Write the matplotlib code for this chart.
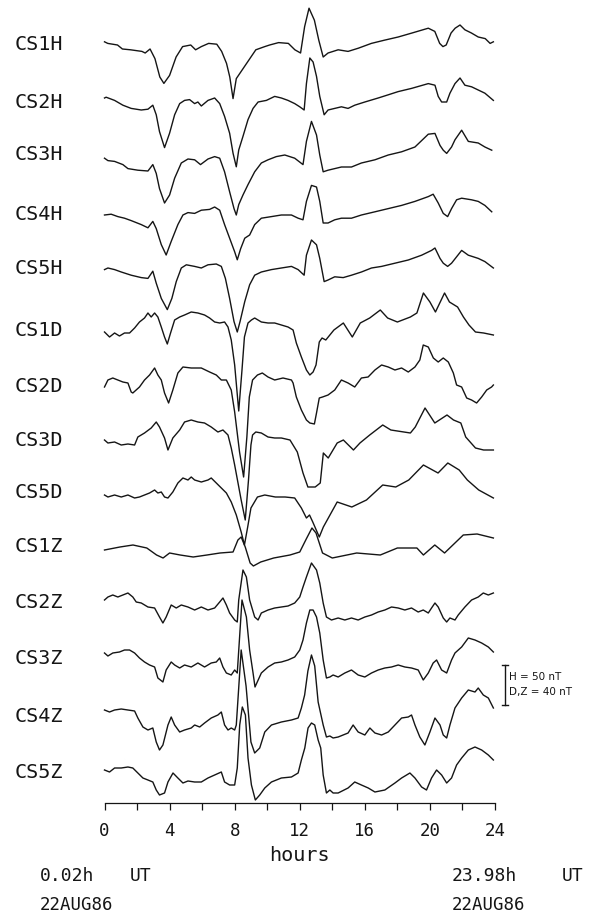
import matplotlib
matplotlib.use("Agg")
import matplotlib.pyplot as plt
import numpy as np

# ---------------- data (hours UT, deviation in nT) ----------------
STATIONS = ["CS1H", "CS2H", "CS3H", "CS4H", "CS5H",
            "CS1D", "CS2D", "CS3D", "CS5D",
            "CS1Z", "CS2Z", "CS3Z", "CS4Z", "CS5Z"]

CS1H = [(0.0,4),(0.2,2),(0.8,0),(1.1,-5),(1.6,-6),(2.3,-8),(2.5,-10),(2.8,-5),(3.1,-17),(3.4,-40),(3.65,-48),(4.0,-38),(4.4,-15),(4.8,-2),(5.3,0),(5.6,-6),(5.95,-2),(6.4,2),(6.9,1),(7.2,-8),(7.5,-23),(7.7,-40),(7.9,-67),(8.1,-42),(8.4,-33),(8.8,-21),(9.3,-6),(9.85,-2),(10.15,0),(10.7,3),(11.3,2),(11.7,-6),(12.05,-10),(12.3,23),(12.57,46),(12.9,31),(13.17,6),(13.44,-15),(13.74,-10),(14.36,-6),(14.97,-8),(15.6,-4),(16.4,2),(17.2,6),(18.05,10),(18.9,15),(19.9,21),(20.3,17),(20.6,2),(20.8,-2),(21.0,0),(21.3,15),(21.55,21),(21.85,25),(22.15,19),(22.55,15),(22.97,10),(23.4,8),(23.7,2),(23.9,4)]
CS2H = [(0.0,5),(0.1,6),(0.62,2),(1.13,-4),(1.64,-8),(2.26,-10),(2.67,-9),(2.97,-4),(3.18,-16),(3.38,-37),(3.69,-57),(4.0,-39),(4.31,-16),(4.62,-2),(4.92,2),(5.23,3),(5.54,-2),(5.74,0),(5.95,-5),(6.36,2),(6.77,5),(7.08,-2),(7.38,-18),(7.69,-39),(7.9,-64),(8.1,-81),(8.25,-60),(8.51,-43),(8.82,-22),(9.13,-8),(9.44,0),(9.95,2),(10.46,7),(10.87,5),(11.28,2),(11.69,-2),(12.0,-6),(12.27,-10),(12.41,23),(12.62,55),(12.82,50),(13.03,32),(13.23,7),(13.5,-16),(13.74,-10),(14.15,-8),(14.56,-6),(14.97,-8),(15.38,-4),(16.0,0),(16.82,5),(17.44,9),(18.05,13),(18.87,17),(19.9,23),(20.31,21),(20.51,7),(20.72,0),(21.03,0),(21.23,11),(21.54,23),(21.85,30),(22.15,21),(22.56,19),(22.97,15),(23.38,11),(23.9,2)]
CS3H = [(0.0,-4),(0.21,-7),(0.62,-8),(1.13,-12),(1.44,-17),(2.05,-19),(2.67,-20),(2.97,-12),(3.18,-23),(3.38,-42),(3.69,-60),(4.0,-50),(4.31,-29),(4.72,-10),(5.13,-5),(5.54,-6),(5.9,-12),(6.36,-5),(6.77,-2),(7.08,-4),(7.38,-21),(7.69,-46),(7.96,-67),(8.1,-75),(8.25,-62),(8.51,-50),(8.82,-37),(9.23,-21),(9.64,-10),(10.05,-6),(10.56,-2),(11.08,0),(11.69,-4),(12.2,-12),(12.41,17),(12.72,42),(13.03,25),(13.23,0),(13.44,-21),(13.74,-19),(14.15,-17),(14.56,-15),(15.18,-15),(15.79,-10),(16.62,-6),(17.44,0),(18.26,4),(19.08,10),(19.9,26),(20.31,27),(20.62,12),(20.82,6),(21.03,2),(21.33,10),(21.54,19),(21.95,31),(22.36,17),(22.97,15),(23.38,10),(23.8,6)]
CS4H = [(0.0,0),(0.41,1),(0.82,-2),(1.23,-4),(1.64,-7),(2.26,-12),(2.67,-16),(2.97,-8),(3.18,-17),(3.49,-37),(3.79,-50),(4.1,-33),(4.51,-12),(4.82,0),(5.13,3),(5.54,2),(5.95,6),(6.46,7),(6.77,10),(7.08,6),(7.38,-12),(7.69,-29),(8.0,-46),(8.16,-56),(8.37,-42),(8.62,-29),(8.92,-25),(9.23,-12),(9.64,-4),(10.26,-2),(10.87,0),(11.49,0),(11.9,-4),(12.2,-6),(12.41,17),(12.72,37),(13.03,35),(13.23,17),(13.44,-10),(13.74,-10),(14.15,-6),(14.56,-4),(15.18,-4),(15.79,0),(16.62,4),(17.44,8),(18.26,12),(19.08,17),(19.9,23),(20.2,26),(20.51,15),(20.82,2),(21.09,-2),(21.33,8),(21.64,19),(21.95,21),(22.56,19),(22.97,17),(23.38,12),(23.8,4)]
CS5H = [(0.0,-2),(0.21,0),(0.62,-2),(1.03,-5),(1.64,-9),(2.26,-12),(2.67,-13),(2.97,-4),(3.18,-19),(3.49,-38),(3.86,-52),(4.14,-38),(4.41,-17),(4.72,0),(5.03,4),(5.54,2),(5.95,0),(6.36,4),(6.87,5),(7.18,2),(7.43,-13),(7.69,-38),(7.96,-67),(8.16,-80),(8.33,-67),(8.62,-42),(8.92,-21),(9.23,-9),(9.64,-5),(10.26,-2),(10.87,0),(11.49,2),(11.9,-2),(12.27,-9),(12.41,16),(12.72,35),(13.03,29),(13.23,12),(13.5,-17),(13.74,-15),(14.15,-11),(14.67,-12),(15.18,-9),(15.79,-5),(16.41,0),(17.03,2),(17.85,6),(18.67,10),(19.49,16),(20.1,22),(20.31,25),(20.62,12),(20.82,6),(21.09,2),(21.33,6),(21.64,14),(21.95,22),(22.36,16),(22.97,12),(23.38,8),(23.9,0)]
CS1D = [(0.0,-2),(0.31,-7),(0.62,-3),(0.92,-6),(1.23,-3),(1.54,-3),(1.85,2),(2.15,8),(2.46,12),(2.67,17),(2.87,13),(3.08,17),(3.28,13),(3.49,3),(3.69,-7),(3.86,-14),(4.06,-3),(4.31,10),(4.62,13),(4.92,15),(5.33,18),(5.74,17),(6.15,15),(6.46,12),(6.77,8),(7.08,7),(7.38,8),(7.59,3),(7.79,-10),(8.0,-35),(8.25,-81),(8.45,-40),(8.6,-7),(8.82,7),(9.03,10),(9.23,12),(9.64,8),(10.05,7),(10.46,7),(10.87,5),(11.28,3),(11.59,0),(11.79,-13),(12.1,-27),(12.41,-40),(12.62,-45),(12.82,-42),(13.0,-35),(13.2,-12),(13.37,-8),(13.6,-10),(14.1,0),(14.68,7),(15.23,-7),(15.72,7),(16.3,12),(16.95,20),(17.4,12),(18.0,8),(18.8,13),(19.2,17),(19.6,37),(20.0,28),(20.34,18),(20.9,37),(21.2,28),(21.7,23),(22.06,13),(22.4,5),(22.8,-2),(23.3,-3),(23.9,-5)]
CS2D = [(0.0,0),(0.21,7),(0.51,9),(0.82,7),(1.13,5),(1.44,4),(1.64,-5),(1.74,-6),(2.15,0),(2.46,7),(2.77,12),(3.08,19),(3.28,12),(3.49,7),(3.69,-6),(3.94,-16),(4.2,-3),(4.51,14),(4.82,20),(5.33,19),(5.95,19),(6.46,15),(6.87,12),(7.18,7),(7.49,7),(7.79,-3),(8.0,-25),(8.3,-65),(8.55,-90),(8.75,-50),(8.9,-10),(9.1,7),(9.4,12),(9.7,14),(10.05,10),(10.46,7),(10.97,9),(11.49,7),(11.59,4),(11.79,-10),(12.1,-23),(12.41,-33),(12.62,-36),(12.9,-37),(13.03,-26),(13.2,-11),(13.4,-10),(13.74,-8),(14.15,-3),(14.56,7),(14.97,4),(15.38,0),(15.79,9),(16.2,10),(16.62,17),(17.03,22),(17.44,20),(17.85,17),(18.26,19),(18.67,15),(19.08,20),(19.38,27),(19.59,42),(19.9,40),(20.21,29),(20.51,25),(20.82,29),(21.13,25),(21.44,14),(21.64,2),(21.95,0),(22.26,-11),(22.56,-13),(22.87,-16),(23.18,-10),(23.49,-3),(23.79,0),(23.9,2)]
CS3D = [(0.0,0),(0.21,-3),(0.62,-2),(1.03,-5),(1.44,-4),(1.85,-5),(2.05,3),(2.46,7),(2.87,12),(3.18,18),(3.38,13),(3.69,2),(3.9,-10),(4.2,2),(4.62,10),(4.92,18),(5.33,20),(5.74,18),(6.15,17),(6.56,13),(6.97,8),(7.28,10),(7.59,5),(7.79,-8),(8.0,-25),(8.4,-60),(8.65,-80),(8.85,-40),(9.0,-5),(9.1,5),(9.3,8),(9.64,7),(10.05,3),(10.46,2),(10.87,2),(11.4,0),(11.85,-12),(12.2,-33),(12.5,-47),(12.95,-47),(13.26,-43),(13.45,-13),(13.75,-18),(14.3,-3),(14.68,0),(15.3,-10),(15.7,-3),(16.3,5),(17.1,15),(17.6,10),(18.4,8),(18.8,7),(19.1,13),(19.7,32),(20.3,17),(21.05,25),(21.45,20),(21.9,17),(22.2,3),(22.8,-8),(23.3,-10),(23.9,-10)]
CS5D = [(0.0,-3),(0.21,-5),(0.62,-3),(1.03,-5),(1.44,-3),(1.85,-6),(2.15,-5),(2.46,-3),(2.77,-1),(3.08,2),(3.28,-1),(3.49,0),(3.69,-5),(3.9,-6),(4.2,0),(4.51,9),(4.82,14),(5.13,12),(5.33,15),(5.54,12),(5.95,10),(6.36,12),(6.56,14),(6.87,9),(7.18,4),(7.49,-1),(7.79,-10),(8.1,-23),(8.4,-40),(8.6,-53),(8.8,-35),(9.0,-16),(9.4,-5),(9.85,-3),(10.5,-5),(11.1,-5),(11.69,-6),(12.1,-16),(12.41,-26),(12.6,-23),(12.8,-30),(13.2,-45),(13.45,-35),(14.3,-10),(15.2,-15),(16.1,-8),(17.1,7),(17.9,5),(18.7,12),(19.6,27),(20.5,19),(21.1,29),(21.8,22),(22.3,12),(23.0,2),(23.9,-6)]
CS1Z = [(0.0,-3),(0.95,0),(1.75,2),(2.6,-1),(3.2,-8),(3.6,-11),(4.0,-6),(4.65,-8),(5.45,-10),(6.3,-8),(7.1,-6),(7.9,-5),(8.2,7),(8.4,10),(8.65,0),(8.95,-16),(9.15,-19),(9.6,-15),(10.4,-11),(11.4,-8),(12.0,-5),(12.4,8),(12.75,19),(13.0,14),(13.4,-6),(14.0,-11),(15.5,-6),(16.95,-8),(18.0,-1),(19.2,-1),(19.6,-8),(20.3,2),(20.9,-6),(22.05,12),(22.9,13),(23.9,9)]
CS2Z = [(0.0,3),(0.21,6),(0.51,8),(0.82,6),(1.13,8),(1.44,10),(1.74,6),(1.95,1),(2.26,0),(2.67,-4),(3.08,-5),(3.38,-14),(3.59,-20),(3.79,-14),(4.1,-2),(4.41,-5),(4.72,-2),(5.13,-4),(5.54,-7),(5.95,-4),(6.36,-7),(6.77,-5),(7.08,1),(7.28,5),(7.49,-2),(7.69,-10),(8.0,-17),(8.16,-19),(8.25,3),(8.51,33),(8.72,26),(8.92,3),(9.23,-14),(9.44,-17),(9.64,-10),(10.05,-7),(10.46,-5),(10.87,-4),(11.28,-3),(11.69,0),(12.0,6),(12.2,16),(12.41,26),(12.72,40),(13.03,33),(13.23,20),(13.44,0),(13.64,-14),(13.95,-17),(14.36,-15),(14.77,-17),(15.18,-15),(15.59,-17),(16.0,-14),(16.41,-12),(16.82,-9),(17.23,-7),(17.64,-4),(18.05,-5),(18.46,-7),(18.87,-5),(19.28,-9),(19.59,-7),(19.9,-10),(20.1,-5),(20.31,0),(20.51,-4),(20.82,-15),(21.03,-19),(21.23,-15),(21.54,-17),(21.74,-12),(22.15,-4),(22.56,3),(22.97,6),(23.28,10),(23.59,8),(23.9,10)]
CS3Z = [(0.0,6),(0.21,3),(0.51,6),(0.92,7),(1.23,9),(1.54,9),(1.85,6),(2.15,1),(2.46,-3),(2.77,-6),(3.08,-8),(3.28,-19),(3.59,-23),(3.79,-11),(4.1,-3),(4.31,-6),(4.62,-9),(4.92,-6),(5.33,-8),(5.74,-4),(6.15,-8),(6.56,-4),(6.87,-3),(7.08,1),(7.28,-8),(7.49,-14),(7.79,-16),(8.0,-11),(8.16,-14),(8.45,59),(8.72,42),(8.92,9),(9.13,-14),(9.25,-28),(9.64,-14),(10.05,-8),(10.46,-4),(10.87,-3),(11.28,-1),(11.69,2),(12.0,9),(12.2,19),(12.41,36),(12.62,49),(12.82,49),(13.03,42),(13.23,26),(13.44,-1),(13.64,-19),(13.85,-18),(14.05,-16),(14.36,-18),(14.77,-14),(15.18,-11),(15.59,-16),(16.0,-18),(16.41,-14),(16.82,-11),(17.23,-9),(17.64,-8),(18.05,-6),(18.46,-8),(18.87,-9),(19.28,-11),(19.59,-21),(19.9,-14),(20.2,-4),(20.41,-1),(20.72,-11),(21.03,-14),(21.33,-1),(21.54,6),(21.95,12),(22.36,21),(22.77,19),(23.18,16),(23.59,12),(23.9,7)]
CS4Z = [(0.0,6),(0.31,4),(0.62,6),(1.03,7),(1.44,6),(1.85,5),(2.05,-2),(2.36,-11),(2.67,-14),(2.97,-12),(3.18,-26),(3.38,-34),(3.59,-29),(3.9,-9),(4.1,-1),(4.31,-9),(4.62,-16),(4.92,-14),(5.33,-12),(5.54,-9),(5.85,-11),(6.15,-7),(6.56,-2),(6.97,1),(7.18,4),(7.38,-9),(7.59,-14),(7.79,-12),(8.0,-14),(8.1,-9),(8.4,66),(8.7,30),(9.0,-26),(9.23,-37),(9.54,-32),(9.85,-16),(10.26,-9),(10.87,-6),(11.49,-4),(11.9,-2),(12.1,8),(12.3,21),(12.5,45),(12.72,61),(12.92,50),(13.13,14),(13.44,-9),(13.64,-21),(13.85,-20),(14.05,-22),(14.36,-21),(14.97,-17),(15.28,-9),(15.59,-16),(16.0,-19),(16.31,-12),(16.62,-17),(17.03,-19),(17.44,-16),(17.85,-9),(18.26,-2),(18.67,-1),(18.87,1),(19.08,-9),(19.38,-21),(19.69,-29),(20.0,-16),(20.31,-2),(20.62,-9),(20.82,-19),(21.03,-22),(21.23,-9),(21.54,8),(21.95,18),(22.36,26),(22.77,24),(22.97,28),(23.28,21),(23.59,18),(23.9,8)]
CS5Z = [(0.0,2),(0.31,0),(0.62,4),(1.03,4),(1.44,5),(1.74,4),(2.05,-1),(2.36,-6),(2.67,-8),(2.97,-10),(3.18,-18),(3.38,-23),(3.69,-21),(3.9,-10),(4.21,-1),(4.51,-6),(4.82,-11),(5.13,-9),(5.54,-10),(5.95,-10),(6.36,-6),(6.77,-3),(7.18,0),(7.38,-10),(7.69,-13),(8.0,-13),(8.16,4),(8.31,47),(8.47,65),(8.66,57),(8.82,14),(9.03,-13),(9.27,-28),(9.54,-23),(9.85,-16),(10.26,-10),(10.87,-6),(11.49,-5),(11.9,-1),(12.1,12),(12.31,24),(12.51,44),(12.72,49),(12.92,47),(13.13,32),(13.29,24),(13.44,-3),(13.64,-21),(13.85,-18),(14.05,-21),(14.36,-21),(14.97,-16),(15.38,-10),(15.79,-13),(16.21,-16),(16.62,-20),(17.23,-18),(17.85,-11),(18.26,-6),(18.77,-1),(19.08,-6),(19.49,-15),(19.79,-18),(20.1,-6),(20.41,2),(20.72,-3),(21.03,-11),(21.33,-6),(21.64,7),(21.95,14),(22.36,22),(22.77,25),(23.18,22),(23.59,17),(23.9,12)]

TRACES = [CS1H, CS2H, CS3H, CS4H, CS5H, CS1D, CS2D, CS3D, CS5D,
          CS1Z, CS2Z, CS3Z, CS4Z, CS5Z]

X_TICKS = [0, 4, 8, 12, 16, 20, 24]
SCALE_H_NT = 50
SCALE_DZ_NT = 40
START_TEXT = "0.02h"
END_TEXT = "23.98h"
DATE_TEXT = "22AUG86"

# ---------------- layout ----------------
W, H = 591, 916
DPI = 100
X0_PX, X24_PX = 104.5, 495.0
AXIS_Y_PX = 803
# vertical position (pixels from top) of each station row
ROW_Y = [45, 102, 155, 215, 268, 330, 387, 440, 492, 547, 603, 659, 716, 772]
PX_PER_NT = {"H": 40.0 / SCALE_H_NT, "D": 40.0 / SCALE_DZ_NT, "Z": 40.0 / SCALE_DZ_NT}
INK = "#151515"
MONO = ["DejaVu Sans Mono"]

fig = plt.figure(figsize=(W / DPI, H / DPI), dpi=DPI)
fig.patch.set_facecolor("white")
ax = fig.add_axes([X0_PX / W, (H - AXIS_Y_PX) / H, (X24_PX - X0_PX) / W, AXIS_Y_PX / H])
ax.set_xlim(0, 24)
ax.set_ylim(AXIS_Y_PX, 0)
for s in ["top", "right", "left"]:
    ax.spines[s].set_visible(False)
ax.spines["bottom"].set_color(INK)
ax.spines["bottom"].set_linewidth(0.9)
ax.set_yticks([])
ax.set_xticks(X_TICKS)
ax.set_xticks([t + 2 for t in X_TICKS[:-1]], minor=True)
ax.tick_params(axis="x", which="both", direction="out", length=5, width=0.9,
               color=INK, pad=9, labelsize=12.5, labelcolor=INK)
for lab in ax.get_xticklabels():
    lab.set_fontfamily(MONO)
ax.set_xlabel("hours", fontsize=14.5, family=MONO, color=INK, labelpad=4)

hours_per_px = 24.0 / (X24_PX - X0_PX)
label_x = (15 - X0_PX) * hours_per_px

for name, trace, row in zip(STATIONS, TRACES, ROW_Y):
    comp = name[-1]
    arr = np.array(trace, dtype=float)
    ax.plot(arr[:, 0], row - arr[:, 1] * PX_PER_NT[comp], color=INK, lw=1.0,
            solid_joinstyle="round", clip_on=False)
    ax.text(label_x, row, name, ha="left", va="center", fontsize=14.5,
            family=MONO, color=INK, clip_on=False)

# scale bar (length of 40 nT on D/Z scale == 50 nT on H scale)
bar_x = 24 + (505 - X24_PX) * hours_per_px
bar_c = 685
half = SCALE_DZ_NT * PX_PER_NT["Z"] / 2
cap = 3 * hours_per_px
ax.plot([bar_x, bar_x], [bar_c - half, bar_c + half], color=INK, lw=1.0, clip_on=False)
for yy in (bar_c - half, bar_c + half):
    ax.plot([bar_x - cap, bar_x + cap], [yy, yy], color=INK, lw=1.0, clip_on=False)
ax.text(bar_x + 1.3 * cap, bar_c - 8, f"H = {SCALE_H_NT} nT", fontsize=7.5,
        va="center", ha="left", color=INK, clip_on=False)
ax.text(bar_x + 1.3 * cap, bar_c + 7, f"D,Z = {SCALE_DZ_NT} nT", fontsize=7.5,
        va="center", ha="left", color=INK, clip_on=False)

# footer texts
def ftext(xpx, ypx, s, **kw):
    fig.text(xpx / W, 1 - ypx / H, s, family=MONO, color=INK, va="center", **kw)

ftext(40, 876, START_TEXT, fontsize=13)
ftext(130, 876, "UT", fontsize=13)
ftext(40, 905, DATE_TEXT, fontsize=12.5)
ftext(452, 876, END_TEXT, fontsize=13)
ftext(562, 876, "UT", fontsize=13)
ftext(452, 905, DATE_TEXT, fontsize=12.5)

fig.savefig("out.png", dpi=DPI, facecolor="white")
